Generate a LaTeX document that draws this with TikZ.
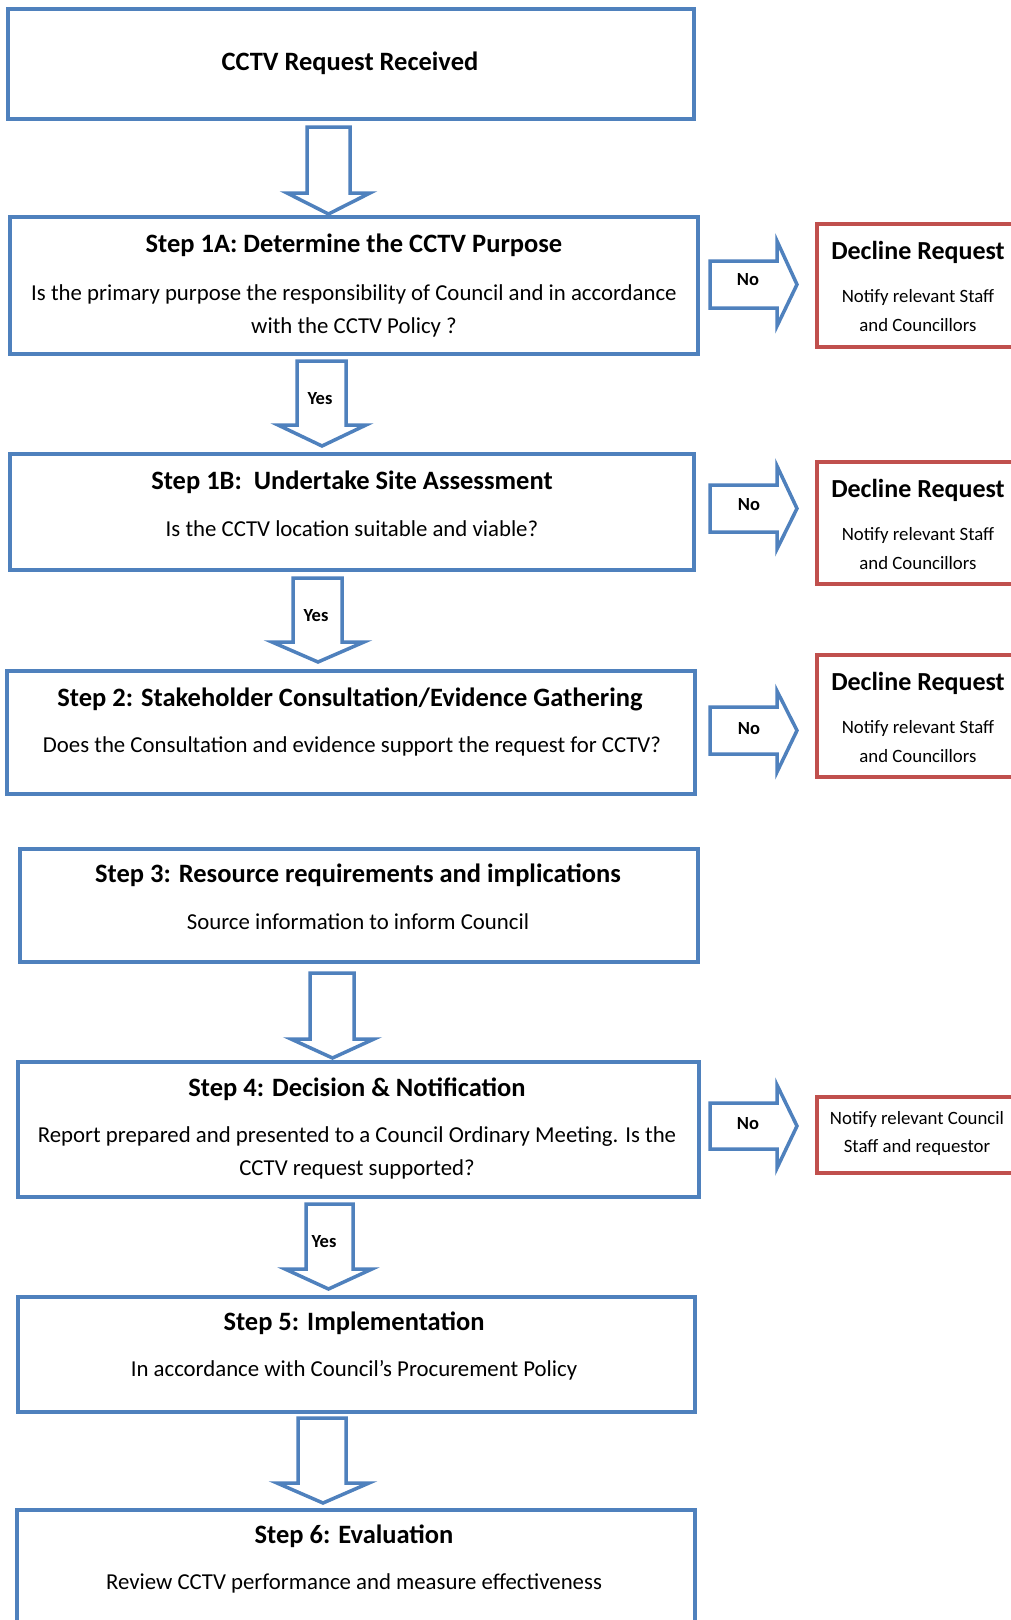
\documentclass[tikz,border=0pt]{standalone}
\usepackage{fontspec}
\setmainfont{Carlito}
\usetikzlibrary{fit}
\definecolor{boxblue}{HTML}{4F81BD}
\definecolor{boxred}{HTML}{C0504D}
\newcommand\blkdown[7]{\draw[blockarrow] (#1,#3) -- (#2,#3) -- (#2,#4) -- (#6,#4) -- ({(#5+#6)/2},#7) -- (#5,#4) -- (#1,#4) -- cycle;}
\newcommand\blkright[7]{\draw[blockarrow] (#1,#3) -- (#2,#3) -- (#2,#5) -- (#7,{(#3+#4)/2}) -- (#2,#6) -- (#2,#4) -- (#1,#4) -- cycle;}
\begin{document}
\begin{tikzpicture}[x=1pt,y=-1pt,
  stepbox/.style={draw=boxblue,line width=3.5pt,fill=white,rectangle,inner sep=0pt},
  redbox/.style={draw=boxred,line width=3.5pt,fill=white,rectangle,inner sep=0pt},
  blockarrow/.style={draw=boxblue,line width=3.5pt,fill=white,line join=miter},
  ttl/.style={font=\fontsize{26.5}{30}\selectfont\bfseries,inner sep=0pt},
  body/.style={font=\fontsize{22.8}{26}\selectfont,inner sep=0pt},
  dttl/.style={font=\fontsize{26}{30}\selectfont\bfseries,inner sep=0pt},
  dbody/.style={font=\fontsize{18.8}{22}\selectfont,inner sep=0pt},
  lbl/.style={font=\fontsize{18.5}{22}\selectfont\bfseries,inner sep=0pt}
]
\clip (0,0) rectangle (1011,1620);
\fill[white] (0,0) rectangle (1011,1620);

% boxes
\node[stepbox,fit={(8,9) (694,119)}] (b0) {};
\node[stepbox,fit={(10,217) (698,354)}] (b1a) {};
\node[stepbox,fit={(10,454) (694,570)}] (b1b) {};
\node[stepbox,fit={(7,671) (695,794)}] (b2) {};
\node[stepbox,fit={(20,849) (698,962)}] (b3) {};
\node[stepbox,fit={(18,1062) (699,1197)}] (b4) {};
\node[stepbox,fit={(18,1297) (695,1412)}] (b5) {};
\node[stepbox,fit={(17,1510) (695,1650)}] (b6) {};

\node[redbox,fit={(817,224) (1040,347)}] (d1) {};
\node[redbox,fit={(817,462) (1040,584)}] (d2) {};
\node[redbox,fit={(817,655) (1040,777)}] (d3) {};
\node[redbox,fit={(817,1097) (1040,1173)}] (d4) {};

% texts
\node[ttl] (t0) at (350,63) {CCTV Request Received};
\node[ttl] (t1a) at (354,245) {Step 1A: Determine the CCTV Purpose};
\node[body] (t1a2) at (354,294) {Is the primary purpose the responsibility of Council and in accordance};
\node[body] (t1a3) at (354,327) {with the CCTV Policy ?};
\node[ttl] (t1b) at (352,482) {Step 1B:\ \ Undertake Site Assessment};
\node[body] (t1b2) at (352,529) {Is the CCTV location suitable and viable?};
\node[ttl] (t2) at (350,699) {Step 2: Stakeholder Consultation/Evidence Gathering};
\node[body] (t22) at (352,746) {Does the Consultation and evidence support the request for CCTV?};
\node[ttl] (t3) at (358,875) {Step 3: Resource requirements and implications};
\node[body] (t32) at (358,922) {Source information to inform Council};
\node[ttl] (t4) at (357,1089) {Step 4: Decision \& Notification};
\node[body] (t42) at (357,1137) {Report prepared and presented to a Council Ordinary Meeting. Is the};
\node[body] (t43) at (357,1169) {CCTV request supported?};
\node[ttl] (t5) at (354,1323) {Step 5: Implementation};
\node[body] (t52) at (354,1370) {In accordance with Council’s Procurement Policy};
\node[ttl] (t6) at (354,1536) {Step 6: Evaluation};
\node[body] (t62) at (354,1583) {Review CCTV performance and measure effectiveness};

\foreach \n/\y in {1/224,2/462,3/655}{
  \pgfmathsetmacro\ya{\y+28}
  \pgfmathsetmacro\yb{\y+73}
  \pgfmathsetmacro\yc{\y+101}
  \node[dttl] (dt\n) at (918,\ya) {Decline Request};
  \node[dbody] (db\n) at (918,\yb) {Notify relevant Staff};
  \node[dbody] (dc\n) at (918,\yc) {and Councillors};
}
\node[dbody] (n41) at (917,1119) {Notify relevant Council};
\node[dbody] (n42) at (917,1147) {Staff and requestor};

% down block arrows
\blkdown{307}{350}{127}{193}{287}{370}{214}
\blkdown{297}{346}{361}{425}{278}{366}{446}
\blkdown{293}{342}{578}{642}{272}{364}{662}
\blkdown{310}{354}{973}{1039}{291}{374}{1058}
\blkdown{306}{353}{1204}{1269}{285}{372}{1289}
\blkdown{298}{346}{1418}{1483}{277}{369}{1503}

% right block arrows
\blkright{710}{777}{261}{308}{241}{326}{797}
\blkright{710}{777}{485}{532}{466}{549}{797}
\blkright{710}{777}{707}{754}{691}{772}{797}
\blkright{710}{777}{1103}{1149}{1085}{1168}{797}

% labels
\node[lbl] (no1) at (748,280) {No};
\node[lbl] (no2) at (749,505) {No};
\node[lbl] (no3) at (749,729) {No};
\node[lbl] (no4) at (748,1124) {No};
\node[lbl] (y1) at (320,399) {Yes};
\node[lbl] (y2) at (316,616) {Yes};
\node[lbl] (y4) at (324,1242) {Yes};
\end{tikzpicture}
\end{document}
